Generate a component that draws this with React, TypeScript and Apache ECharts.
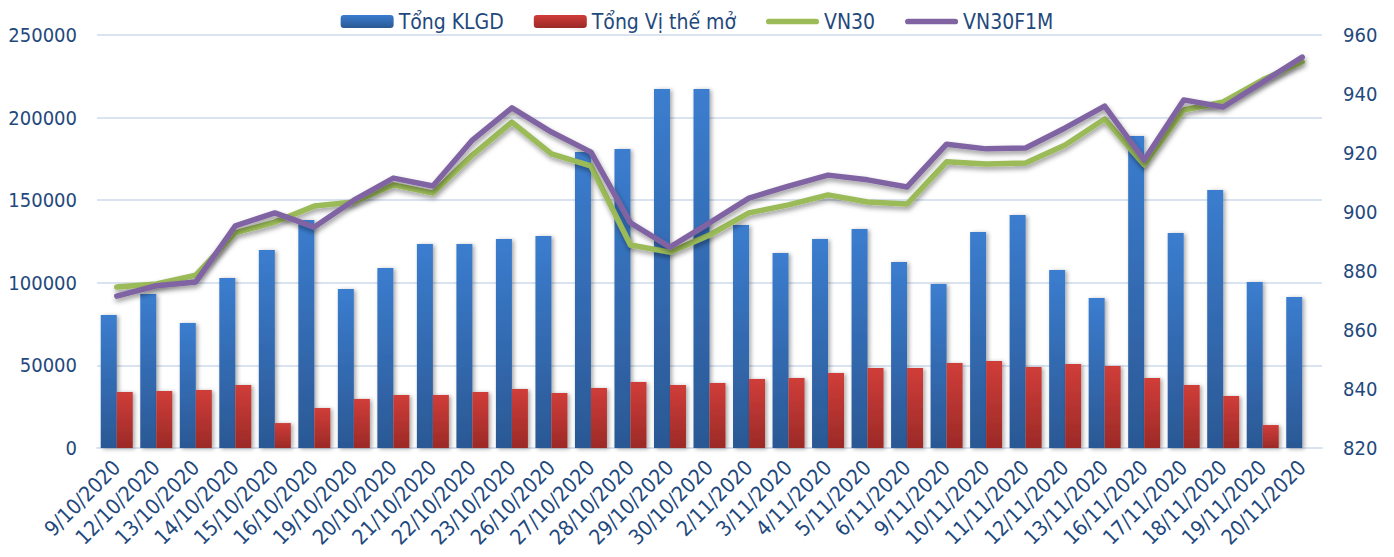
import React, { useEffect, useRef } from "react";
import * as echarts from "echarts";

const dates = [
  "9/10/2020", "12/10/2020", "13/10/2020", "14/10/2020", "15/10/2020", "16/10/2020",
  "19/10/2020", "20/10/2020", "21/10/2020", "22/10/2020", "23/10/2020", "26/10/2020",
  "27/10/2020", "28/10/2020", "29/10/2020", "30/10/2020", "2/11/2020", "3/11/2020",
  "4/11/2020", "5/11/2020", "6/11/2020", "9/11/2020", "10/11/2020", "11/11/2020",
  "12/11/2020", "13/11/2020", "16/11/2020", "17/11/2020", "18/11/2020", "19/11/2020",
  "20/11/2020",
];

const tongKLGD = [
  80500, 93200, 75700, 102900, 119900, 138000, 96200, 109000, 123500, 123500, 126500,
  128300, 179200, 181000, 217300, 217300, 135000, 118000, 126500, 132600, 112600, 99300,
  130800, 141000, 107700, 90800, 188900, 130100, 156200, 100500, 91400,
];

const tongViTheMo = [
  33900, 34500, 35100, 38100, 15100, 24200, 29700, 32100, 32100, 33900, 35700, 33300,
  36300, 40000, 38100, 39300, 41800, 42400, 45400, 48400, 48400, 51500, 52700, 49000,
  50800, 49600, 42400, 38100, 31500, 13900, null,
];

const vn30 = [
  874.6, 875.6, 878.6, 892.9, 896.6, 902.0, 903.4, 909.2, 906.4, 919.3, 930.5, 919.7,
  915.6, 888.8, 886.4, 892.2, 899.7, 902.4, 905.8, 903.4, 902.7, 917.0, 916.3, 916.6,
  922.7, 931.5, 916.0, 934.6, 937.3, 944.8, 950.9,
];

const vn30f1m = [
  871.5, 875.0, 876.3, 895.3, 899.7, 894.9, 904.0, 911.5, 908.8, 924.4, 935.3, 927.1,
  920.3, 896.3, 888.1, 896.3, 904.7, 908.8, 912.5, 910.9, 908.5, 923.0, 921.4, 921.7,
  928.5, 935.9, 917.6, 938.0, 935.6, 944.0, 952.5,
];

const FONT = "'DejaVu Sans Condensed', 'DejaVu Sans', sans-serif";
const TEXT_COLOR = "#1F497D";
const GRID_COLOR = "#DAE4F1";
const LINE_ICON = "path://M3,0 L53,0 A3,3 0 0 1 53,6 L3,6 A3,3 0 0 1 3,0 Z";

export default function App() {
  const ref = useRef<HTMLDivElement>(null);

  useEffect(() => {
    if (!ref.current) return;
    const chart = echarts.init(ref.current, null, { renderer: "svg" });
    const blueGrad = new echarts.graphic.LinearGradient(0, 0, 0, 1, [
      { offset: 0, color: "#3B7DCF" },
      { offset: 1, color: "#2B5894" },
    ]);
    const redGrad = new echarts.graphic.LinearGradient(0, 0, 0, 1, [
      { offset: 0, color: "#D03D39" },
      { offset: 1, color: "#9B2A27" },
    ]);
    const barShadow = {
      shadowColor: "rgba(0,0,0,0.35)",
      shadowBlur: 4,
      shadowOffsetX: 2,
      shadowOffsetY: 1,
    };
    const lineShadow = {
      shadowColor: "rgba(0,0,0,0.4)",
      shadowBlur: 5,
      shadowOffsetX: 1,
      shadowOffsetY: 3,
    };
    chart.setOption({
      animation: false,
      textStyle: { fontFamily: FONT },
      legend: {
        top: 6,
        left: "center",
        itemWidth: 53,
        itemHeight: 13,
        itemGap: 30,
        textStyle: { color: TEXT_COLOR, fontSize: 21, fontFamily: FONT },
        data: [
          { name: "Tổng KLGD" },
          { name: "Tổng Vị thế mở" },
          { name: "VN30", icon: LINE_ICON },
          { name: "VN30F1M", icon: LINE_ICON },
        ],
      },
      grid: { left: 97, right: 72, top: 35, bottom: 109, containLabel: false },
      xAxis: {
        type: "category",
        data: dates,
        boundaryGap: true,
        axisTick: { show: false },
        axisLine: { lineStyle: { color: GRID_COLOR, width: 2 } },
        axisLabel: {
          interval: 0,
          rotate: 45,
          margin: 16,
          color: TEXT_COLOR,
          fontSize: 21,
          fontFamily: FONT,
        },
      },
      yAxis: [
        {
          type: "value",
          min: 0,
          max: 250000,
          interval: 50000,
          axisLine: { show: false },
          axisTick: { show: false },
          splitLine: { lineStyle: { color: GRID_COLOR, width: 2 } },
          axisLabel: {
            color: TEXT_COLOR,
            fontSize: 20,
            margin: 20,
            fontFamily: FONT,
            formatter: (v: number) => String(v),
          },
        },
        {
          type: "value",
          min: 820,
          max: 960,
          interval: 20,
          position: "right",
          axisLine: { show: false },
          axisTick: { show: false },
          splitLine: { show: false },
          axisLabel: {
            color: TEXT_COLOR,
            fontSize: 20,
            margin: 21,
            fontFamily: FONT,
            formatter: (v: number) => String(v),
          },
        },
      ],
      series: [
        {
          name: "Tổng KLGD",
          type: "bar",
          data: tongKLGD,
          barWidth: 16,
          barGap: "0%",
          itemStyle: { color: blueGrad, ...barShadow },
        },
        {
          name: "Tổng Vị thế mở",
          type: "bar",
          data: tongViTheMo,
          barWidth: 16,
          barGap: "0%",
          itemStyle: { color: redGrad, ...barShadow },
        },
        {
          name: "VN30",
          type: "line",
          yAxisIndex: 1,
          data: vn30,
          symbol: "none",
          showSymbol: false,
          itemStyle: { color: "#9BBB59" },
          lineStyle: { color: "#9BBB59", width: 5.5, cap: "round", join: "round", ...lineShadow },
          z: 3,
        },
        {
          name: "VN30F1M",
          type: "line",
          yAxisIndex: 1,
          data: vn30f1m,
          symbol: "none",
          showSymbol: false,
          itemStyle: { color: "#8064A2" },
          lineStyle: { color: "#8064A2", width: 5.5, cap: "round", join: "round", ...lineShadow },
          z: 4,
        },
      ],
    });
    return () => chart.dispose();
  }, []);

  return (
    <div
      ref={ref}
      style={{ position: "fixed", left: 0, top: 0, width: 1394, height: 557, background: "#fff" }}
    />
  );
}
